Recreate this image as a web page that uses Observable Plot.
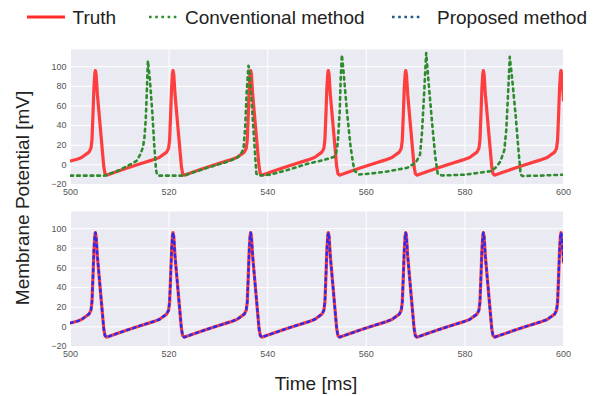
<!DOCTYPE html>
<html>
<head>
<meta charset="utf-8">
<script src="https://cdn.jsdelivr.net/npm/d3@7"></script>
<script src="https://cdn.jsdelivr.net/npm/@observablehq/plot@0.6"></script>
<style>
  html, body { margin: 0; padding: 0; background: #fff; }
  #wrap { position: relative; width: 597px; height: 396px; overflow: hidden; font-family: "Liberation Sans", Arial, sans-serif; }
  .panel { position: absolute; left: 0; }
  #overlay { position: absolute; left: 0; top: 0; pointer-events: none; }
</style>
</head>
<body>
<div id="wrap">
  <div id="top" class="panel" style="top:49px"></div>
  <div id="bottom" class="panel" style="top:211px"></div>
</div>
<script>
// ---- Data ----
const xTicks = [500, 520, 540, 560, 580, 600];
const yTicks = [-20, 0, 20, 40, 60, 80, 100];
const seriesNames = ["Truth", "Conventional method", "Proposed method"];
const xLabel = "Time [ms]";
const yLabel = "Membrane Potential [mV]";

// Truth (also matched by the proposed method)
const truthT = [
  500, 501.5, 502.25, 503.75, 504.15, 504.35, 504.55, 504.75, 504.93, 505.05, 505.2, 505.45, 506.15, 506.75, 507.0, 507.3,
  509, 511.5, 514, 516.5, 518.0, 519.5, 519.9, 520.1, 520.3, 520.5, 520.68, 520.8, 520.95, 521.2, 521.9, 522.5, 522.75, 523.05,
  524.75, 527.25, 529.75, 532.25, 533.75, 535.25, 535.65, 535.85, 536.05, 536.25, 536.43, 536.55, 536.7, 536.95, 537.65, 538.25, 538.5, 538.8,
  540.5, 543, 545.5, 548, 549.5, 551.0, 551.4, 551.6, 551.8, 552.0, 552.18, 552.3, 552.45, 552.7, 553.4, 554.0, 554.25, 554.55,
  556.25, 558.75, 561.25, 563.75, 565.2, 566.7, 567.1, 567.3, 567.5, 567.7, 567.88, 568.0, 568.15, 568.4, 569.1, 569.7, 569.95, 570.25,
  571.95, 574.45, 576.95, 579.45, 580.95, 582.45, 582.85, 583.05, 583.25, 583.45, 583.63, 583.75, 583.9, 584.15, 584.85, 585.45, 585.7, 586.0,
  587.7, 590.2, 592.7, 595.2, 596.7, 598.2, 598.6, 598.8, 599.0, 599.2, 599.38, 599.5, 599.65, 600
];
const truthV = [
  4, 6, 7.5, 13, 17, 25, 50, 78, 93, 96, 92, 72, 32, -2, -9, -10.5,
  -7.6, -3.2, 0.9, 4.8, 7.5, 13, 17, 25, 50, 78, 93, 96, 92, 72, 32, -2, -9, -10.5,
  -7.6, -3.2, 0.9, 4.8, 7.5, 13, 17, 25, 50, 78, 93, 96, 92, 72, 32, -2, -9, -10.5,
  -7.6, -3.2, 0.9, 4.8, 7.5, 13, 17, 25, 50, 78, 93, 96, 92, 72, 32, -2, -9, -10.5,
  -7.6, -3.2, 0.9, 4.8, 7.5, 13, 17, 25, 50, 78, 93, 96, 92, 72, 32, -2, -9, -10.5,
  -7.6, -3.2, 0.9, 4.8, 7.5, 13, 17, 25, 50, 78, 93, 96, 92, 72, 32, -2, -9, -10.5,
  -7.6, -3.2, 0.9, 4.8, 7.5, 13, 17, 25, 50, 78, 93, 96, 92, 66
];

// Conventional method (top panel)
const convT = [
  500, 503, 506.8, 507.5, 510.1, 512.2, 513.4, 514.2, 514.7, 515.0, 515.25, 515.45, 515.7, 516.1, 516.6, 517.0, 517.35, 517.55, 518,
  523, 523.3, 525, 528, 531.1, 533.5, 534.5, 535.1, 535.45, 535.75, 536.1, 536.3, 536.65, 537.2, 537.7, 538.2,
  540.5, 544.6, 548, 551.4, 553.4, 553.9, 554.2, 554.6, 554.8, 555.05, 555.4, 556.1, 556.8, 557.3, 557.6, 558.5,
  561, 564.2, 568.3, 570, 570.9, 571.3, 571.7, 572.15, 572.7, 573.4, 574.0, 574.5, 575.4,
  580, 583.2, 585.2, 586.2, 587.2, 588.0, 588.4, 588.8, 589.1, 589.6, 590.3, 590.9, 591.3, 591.6, 595, 600
];
const convV = [
  -11, -11, -11, -10, -5, 0.7, 4, 11, 18, 28, 45, 70, 106, 87, 53, 19, -5, -10, -11,
  -11, -10.5, -7.5, -2.5, 2, 6.5, 10, 17, 40, 75, 101, 95, 70, 29, -9, -10.8,
  -10, -4.4, 1, 5, 8, 12, 22, 53, 87, 112, 94, 53, 19, 2, -6, -9.8,
  -8.8, -6.8, -3, 2, 10.5, 33, 70, 114, 80, 40, 8, -9.5, -10.8,
  -10, -7.8, -6.5, -3, 3.5, 15, 36, 77, 110, 87, 50, 13, -9.5, -11.3, -11, -10
];

// Proposed method coincides with the truth in the picture
const propT = truthT;
const propV = truthV;

// ---- Styling ----
const colors = { truth: "#ff2a2a", conv: "#2e8b2e", prop: "#2a2af0", propLegend: "#1f5a8c" };
const bg = "#eaeaf2";
const W = 597, H = 155;

const truth = truthT.map((t, i) => ({ t, v: truthV[i] }));
const conv = convT.map((t, i) => ({ t, v: convV[i] }));
const prop = propT.map((t, i) => ({ t, v: propV[i] }));

function panel(extraMarks) {
  return Plot.plot({
    width: W, height: H,
    marginLeft: 70, marginRight: 34, marginTop: 0, marginBottom: 20,
    style: { fontSize: "9px", fontFamily: "'Liberation Sans', Arial, sans-serif", color: "#555", background: "transparent", overflow: "visible" },
    x: { domain: [500, 600], ticks: xTicks, tickSize: 0, tickPadding: 4, label: null },
    y: { domain: [-20, 117.5], ticks: yTicks, tickSize: 0, tickPadding: 4, label: null },
    marks: [
      Plot.frame({ fill: bg, stroke: null }),
      Plot.gridX(xTicks, { stroke: "white", strokeOpacity: 1, strokeWidth: 1 }),
      Plot.gridY(yTicks, { stroke: "white", strokeOpacity: 1, strokeWidth: 1 }),
      Plot.axisX({ ticks: xTicks, tickSize: 0, tickPadding: 4, label: null }),
      Plot.axisY({ ticks: yTicks, tickSize: 0, tickPadding: 4, label: null }),
      Plot.line(truth, { x: "t", y: "v", stroke: colors.truth, strokeWidth: 3.2, strokeOpacity: 0.9, clip: true }),
      ...extraMarks
    ]
  });
}

document.getElementById("top").appendChild(panel([
  Plot.line(conv, { x: "t", y: "v", stroke: colors.conv, strokeWidth: 2.6, strokeDasharray: "2.6,4.1", clip: true })
]));
document.getElementById("bottom").appendChild(panel([
  Plot.line(prop, { x: "t", y: "v", stroke: colors.prop, strokeWidth: 2.4, strokeDasharray: "2.4,4", clip: true })
]));

// ---- Overlay: legend and axis labels ----
const svg = d3.select("#wrap").append("svg").attr("id", "overlay").attr("width", W).attr("height", 396);
const font = "'Liberation Sans', Arial, sans-serif";
const ly = 17;
const legendItems = [
  { name: seriesNames[0], x0: 27, x1: 65, tx: 72.5, color: colors.truth, dash: null, w: 3 },
  { name: seriesNames[1], x0: 149, x1: 177, tx: 185, color: colors.conv, dash: "2.6,3.6", w: 2.6 },
  { name: seriesNames[2], x0: 392, x1: 420, tx: 437, color: colors.propLegend, dash: "2.6,3.6", w: 2.6 }
];
for (const it of legendItems) {
  const l = svg.append("line").attr("x1", it.x0).attr("x2", it.x1).attr("y1", ly).attr("y2", ly)
    .attr("stroke", it.color).attr("stroke-width", it.w);
  if (it.dash) l.attr("stroke-dasharray", it.dash);
  svg.append("text").attr("x", it.tx).attr("y", ly).attr("dy", "0.35em")
    .attr("font-family", font).attr("font-size", 19).attr("fill", "#222").text(it.name);
}
svg.append("text").attr("transform", "translate(22,198) rotate(-90)")
  .attr("text-anchor", "middle").attr("dy", "0.35em")
  .attr("font-family", font).attr("font-size", 19).attr("fill", "#222").text(yLabel);
svg.append("text").attr("x", 316).attr("y", 383).attr("text-anchor", "middle").attr("dy", "0.35em")
  .attr("font-family", font).attr("font-size", 19).attr("fill", "#222").text(xLabel);
</script>
</body>
</html>
